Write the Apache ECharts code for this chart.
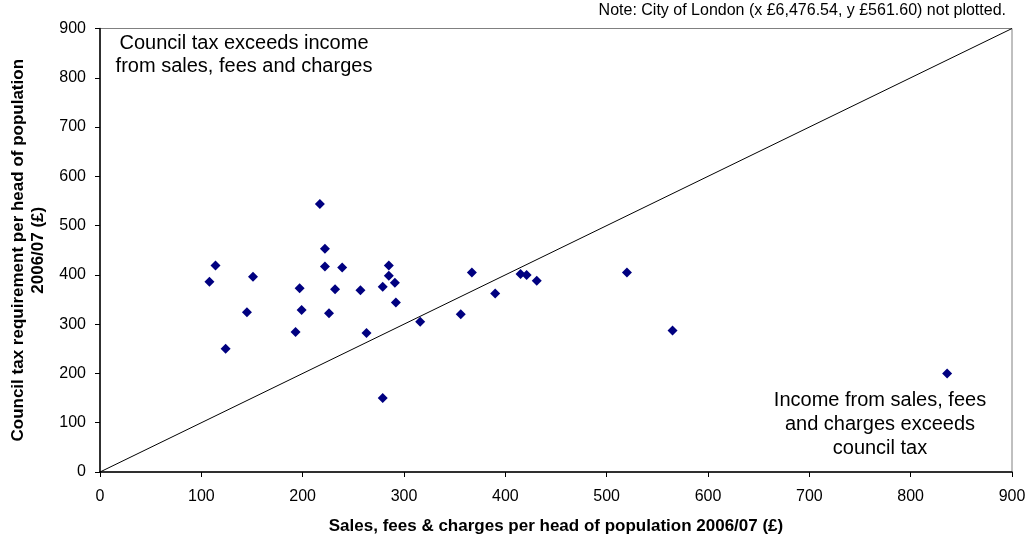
<!DOCTYPE html>
<html>
<head>
<meta charset="utf-8">
<script src="https://cdn.jsdelivr.net/npm/echarts@6/dist/echarts.min.js"></script>
<style>
html,body{margin:0;padding:0;background:#fff;}
#chart{width:1029px;height:542px;}
</style>
</head>
<body>
<div id="chart"></div>
<script>
// Sales, fees & charges per head (x) and council tax requirement per head (y), 2006/07, £
var salesFees = [217, 222, 222, 239, 114, 108, 151, 197, 232, 145, 199, 226, 193, 124,
                 257, 285, 285, 279, 291, 292, 263, 279, 316, 356, 367, 390, 415, 421, 431,
                 520, 565, 836];
var councilTax = [544, 453, 417, 415, 419, 386, 396, 373, 371, 324, 329, 322, 284, 250,
                  369, 419, 398, 376, 384, 344, 282, 150, 305, 320, 405, 362, 402, 400, 388,
                  405, 287, 200];
var equalityLine = [0, 900];
var axisTicks = [0, 100, 200, 300, 400, 500, 600, 700, 800, 900];

var points = salesFees.map(function (x, i) { return [x, councilTax[i]]; });
var lineData = equalityLine.map(function (v) { return [v, v]; });

var font = '"Liberation Sans", Arial, sans-serif';
var chart = echarts.init(document.getElementById('chart'));
chart.setOption({
  animation: false,
  backgroundColor: '#ffffff',
  grid: {
    left: 100, right: 17, top: 28.5, bottom: 70,
    show: true, borderColor: '#808080', borderWidth: 1,
    containLabel: false, outerBoundsMode: 'none'
  },
  xAxis: {
    type: 'value', min: axisTicks[0], max: axisTicks[axisTicks.length - 1], interval: 100,
    name: 'Sales, fees & charges per head of population 2006/07 (£)',
    nameLocation: 'middle', nameGap: 46,
    nameTextStyle: { fontFamily: font, fontSize: 17, fontWeight: 'bold', color: '#000' },
    axisLine: { show: true, onZero: false, lineStyle: { color: '#000', width: 1.5 } },
    axisTick: { show: true, length: 5, lineStyle: { color: '#000' } },
    axisLabel: { fontFamily: font, fontSize: 16, color: '#000', margin: 17 },
    splitLine: { show: false }
  },
  yAxis: {
    type: 'value', min: axisTicks[0], max: axisTicks[axisTicks.length - 1], interval: 100,
    name: 'Council tax requirement per head of population\n2006/07 (£)',
    nameLocation: 'middle', nameGap: 52,
    nameTextStyle: { fontFamily: font, fontSize: 17, fontWeight: 'bold', color: '#000', lineHeight: 20 },
    axisLine: { show: true, onZero: false, lineStyle: { color: '#000', width: 1.5 } },
    axisTick: { show: true, length: 5, lineStyle: { color: '#000' } },
    axisLabel: { fontFamily: font, fontSize: 16, color: '#000', margin: 14 },
    splitLine: { show: false }
  },
  graphic: [
    { type: 'text', x: 1006, y: 3,
      style: { text: 'Note: City of London (x £6,476.54, y £561.60) not plotted.', font: '16px ' + font, fill: '#000',
               align: 'right', verticalAlign: 'top', textAlign: 'right', textVerticalAlign: 'top' } },
    { type: 'text', x: 244, y: 31.5,
      style: { text: 'Council tax exceeds income\nfrom sales, fees and charges', font: '20px ' + font, fill: '#000',
               align: 'center', verticalAlign: 'top', textAlign: 'center', textVerticalAlign: 'top', lineHeight: 23 } },
    { type: 'text', x: 880, y: 388,
      style: { text: 'Income from sales, fees\nand charges exceeds\ncouncil tax', font: '20px ' + font, fill: '#000',
               align: 'center', verticalAlign: 'top', textAlign: 'center', textVerticalAlign: 'top', lineHeight: 24 } }
  ],
  series: [
    {
      type: 'line', data: lineData, showSymbol: false, symbol: 'none',
      lineStyle: { color: '#000', width: 1 }, silent: true, z: 1
    },
    {
      type: 'scatter', data: points, symbol: 'diamond', symbolSize: [10, 10],
      itemStyle: { color: '#000080', opacity: 1 }, z: 3
    }
  ]
});
</script>
</body>
</html>
